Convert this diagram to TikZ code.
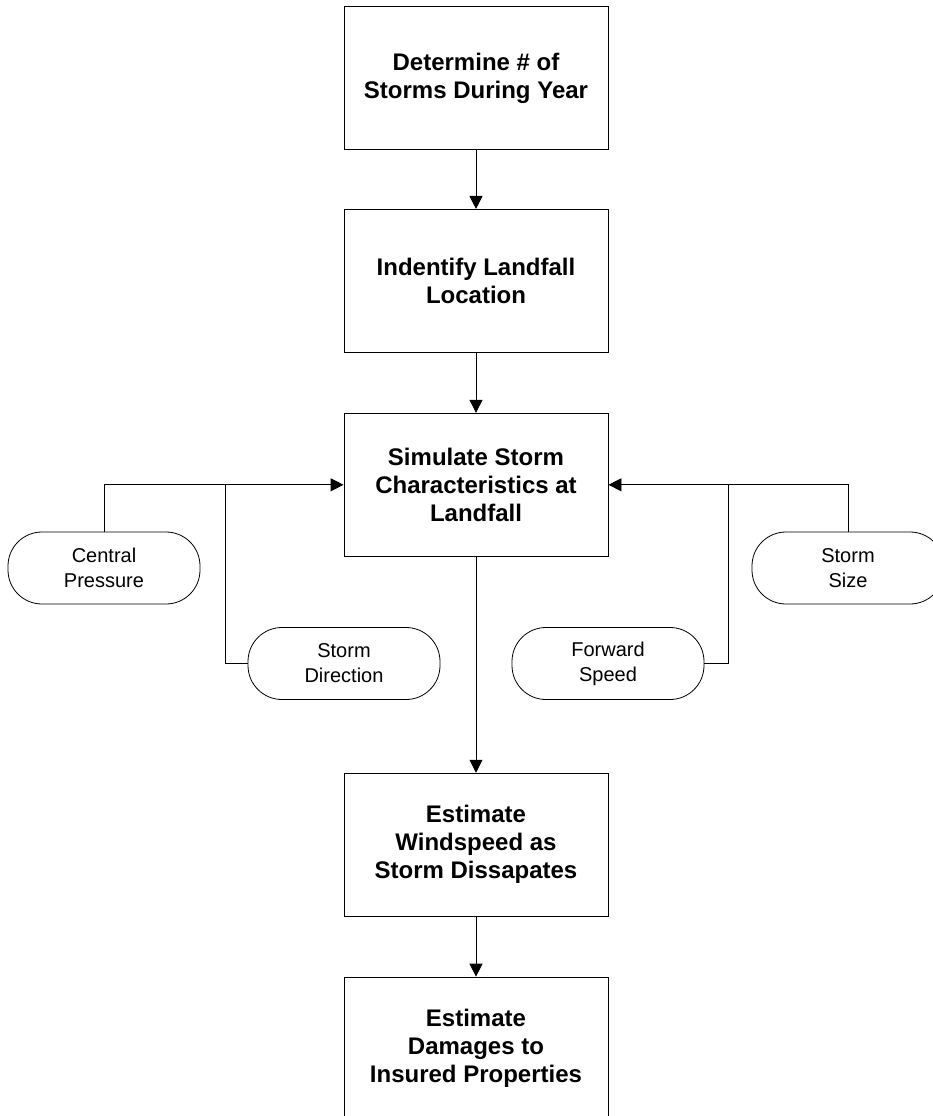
\documentclass[tikz,border=0pt]{standalone}
\usepackage{fontspec}
\setmainfont{Liberation Sans}
\usetikzlibrary{positioning,arrows.meta}

\begin{document}
\begin{tikzpicture}[
  x=1pt, y=1pt,
  node distance=60pt,
  stepbox/.style={draw, line width=0.9pt, minimum width=264pt, minimum height=143pt, inner sep=0pt, align=center, font=\fontsize{24}{28}\selectfont\bfseries},
  input/.style={draw, line width=0.8pt, rounded corners=34pt, minimum width=192pt, minimum height=72pt, inner sep=0pt, align=center, font=\fontsize{20}{25}\selectfont},
  arr/.style={-{Triangle[length=13pt,width=13pt]}, line width=0.9pt},
  link/.style={line width=0.9pt}
]
\useasboundingbox (0,0) rectangle (933,-1116);
\clip (0,0) rectangle (933,-1116);
% main chain
\node[stepbox] (storms) at (476,-78) {Determine \# of\\Storms During Year};
\node[stepbox, below=59pt of storms] (landfall) {Indentify Landfall\\Location};
\node[stepbox, below=of landfall] (simulate) {Simulate Storm\\Characteristics at\\Landfall};
\node[stepbox, below=216pt of simulate] (windspeed) {Estimate\\Windspeed as\\Storm Dissapates};
\node[stepbox, below=of windspeed] (damages) {Estimate\\Damages to\\Insured Properties};
% storm characteristics
\node[input] (pressure) at (104,-568) {Central\\Pressure};
\node[input] (direction) at (344,-663.5) {Storm\\Direction};
\node[input] (fwdspeed) at (608,-663.5) {Forward\\Speed};
\node[input] (size) at (848,-568) {Storm\\Size};
\path (simulate.west) ++(-118,0) coordinate (ljoin);
\path (simulate.east) ++(120,0) coordinate (rjoin);
\draw[arr] (storms) -- (landfall);
\draw[arr] (landfall) -- (simulate);
\draw[arr] (simulate) -- (windspeed);
\draw[arr] (windspeed) -- (damages);
\draw[arr] (pressure.north) |- (simulate.west);
\draw[link] (direction.west) -| (ljoin);
\draw[arr] (size.north) |- (simulate.east);
\draw[link] (fwdspeed.east) -| (rjoin);
\end{tikzpicture}
\end{document}
